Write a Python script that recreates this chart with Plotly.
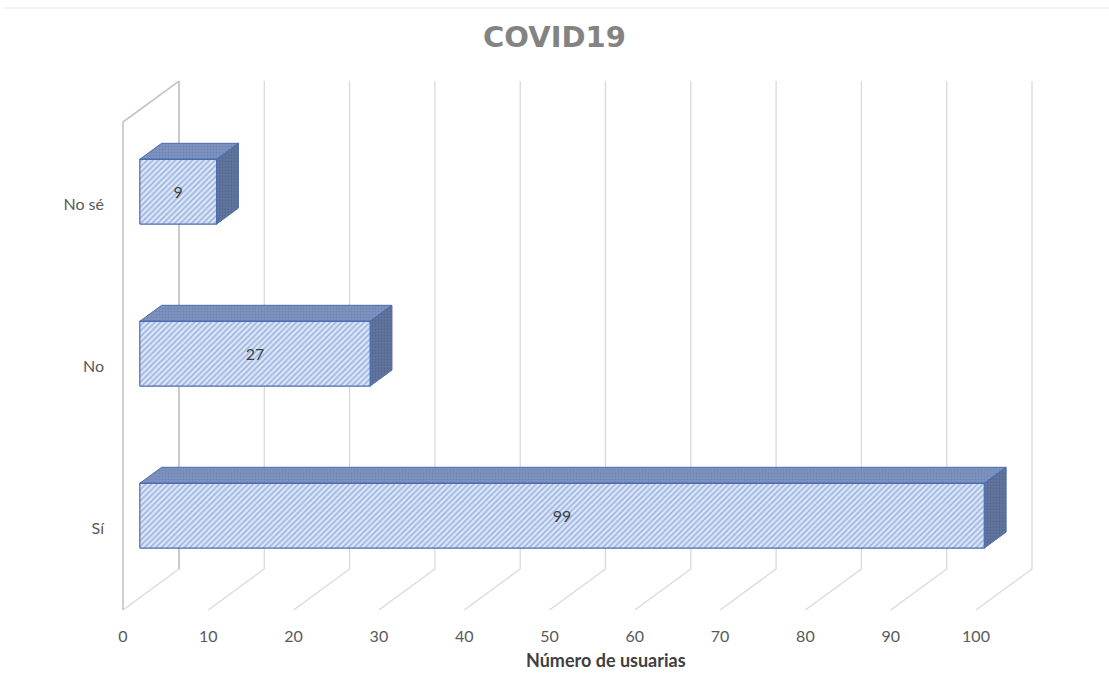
import plotly.graph_objects as go

# Survey answers and counts
categories = ["Sí", "No", "No sé"]
counts = [99, 27, 9]
x_ticks = [0, 10, 20, 30, 40, 50, 60, 70, 80, 90, 100]
chart_title = "COVID19"
x_title = "Número de usuarias"

# ---- pseudo-3D geometry (oblique projection) ----
W, H = 1109, 680
L_PX, R_PX, T_PX, B_PX = 113, 1050, 70, 620      # plot area in pixels
X0_PX, UNIT_PX = 123, 8.53                          # front-plane x=0 and px per unit
Y0_PX, CAT_PX = 528, 162                            # front-plane y of first category, px per category
DX = 56 / UNIT_PX                                   # depth shift in x (data units)
DY = 41 / CAT_PX                                    # depth shift in y (category units)
FLOOR, CEIL = -0.506, 2.506                         # wall extent at the front plane
D_FRONT, D_BACK = 0.30, 0.69                        # depth span of the bars
HALF = 0.2                                          # half bar thickness (category units)

x_range = [(L_PX - X0_PX) / UNIT_PX, (R_PX - X0_PX) / UNIT_PX]
y_range = [(Y0_PX - B_PX) / CAT_PX, (Y0_PX - T_PX) / CAT_PX]


def proj(v, d, y):
    """Map value v, depth d (0 front .. 1 back) and category position y to axis coords."""
    return v + d * DX, y + d * DY


def poly(points):
    xs, ys = zip(*[proj(*p) for p in points])
    return list(xs) + [xs[0]], list(ys) + [ys[0]]


fig = go.Figure()

GRID = "#d9d9d9"
WALL = "#c4c4c4"

# back wall verticals and floor diagonals
for v in x_ticks:
    xs, ys = zip(proj(v, 0, FLOOR), proj(v, 1, FLOOR), proj(v, 1, CEIL))
    fig.add_trace(go.Scatter(x=xs, y=ys, mode="lines", line=dict(color=GRID, width=1.3),
                             hoverinfo="skip", showlegend=False))

# side wall outline
xs, ys = zip(proj(0, 0, FLOOR), proj(0, 0, CEIL), proj(0, 1, CEIL), proj(0, 1, FLOOR))
fig.add_trace(go.Scatter(x=xs, y=ys, mode="lines", line=dict(color=WALL, width=1.6),
                         hoverinfo="skip", showlegend=False))

EDGE = "#4a6cb0"
for i, (cat, val) in enumerate(zip(categories, counts)):
    lo, hi = i - HALF, i + HALF
    # top face
    xs, ys = poly([(0, D_FRONT, hi), (val, D_FRONT, hi), (val, D_BACK, hi), (0, D_BACK, hi)])
    fig.add_trace(go.Scatter(x=xs, y=ys, mode="lines", fill="toself",
                             line=dict(color=EDGE, width=1),
                             fillcolor="#7a8fbb",
                             fillpattern=dict(shape=".", bgcolor="#7e93c0", fgcolor="#62799f",
                                              size=3, solidity=0.4),
                             hoverinfo="skip", showlegend=False))
    # right face
    xs, ys = poly([(val, D_FRONT, lo), (val, D_BACK, lo), (val, D_BACK, hi), (val, D_FRONT, hi)])
    fig.add_trace(go.Scatter(x=xs, y=ys, mode="lines", fill="toself",
                             line=dict(color=EDGE, width=1),
                             fillcolor="#5e7099",
                             fillpattern=dict(shape=".", bgcolor="#63769f", fgcolor="#4a5b84",
                                              size=3, solidity=0.45),
                             hoverinfo="skip", showlegend=False))
    # front face (hatched)
    xs, ys = poly([(0, D_FRONT, lo), (val, D_FRONT, lo), (val, D_FRONT, hi), (0, D_FRONT, hi)])
    fig.add_trace(go.Scatter(x=xs, y=ys, mode="lines", fill="toself",
                             line=dict(color=EDGE, width=1.2),
                             fillcolor="#d6e1f4",
                             fillpattern=dict(shape="/", bgcolor="#dde6f7", fgcolor="#5a80c8",
                                              size=4, solidity=0.4),
                             hoverinfo="skip", showlegend=False))
    # value label in the middle of the front face
    lx, ly = proj(val / 2, D_FRONT, i)
    fig.add_trace(go.Scatter(x=[lx], y=[ly - 0.015], mode="text", text=[str(val)],
                             textfont=dict(family="Lato", size=16, color="#404040"),
                             textposition="middle center", hoverinfo="skip", showlegend=False))

plot_w = R_PX - L_PX
plot_h = B_PX - T_PX

fig.update_layout(
    width=W, height=H,
    margin=dict(l=L_PX, r=W - R_PX, t=T_PX, b=H - B_PX),
    paper_bgcolor="white", plot_bgcolor="white",
    font=dict(family="Lato", color="#595959", size=16),
    title=dict(text=chart_title, x=0.5, xref="container", xanchor="center",
               y=1 - 37 / H, yref="container", yanchor="middle",
               font=dict(family="DejaVu Sans", size=29, color="#838383", weight="bold")),
    xaxis=dict(range=x_range, tickvals=x_ticks, ticktext=[str(t) for t in x_ticks],
               showgrid=False, zeroline=False, showline=False, ticks="",
               ticklabelstandoff=5, tickfont=dict(size=16, color="#595959")),
    yaxis=dict(range=y_range, tickvals=list(range(len(categories))), ticktext=categories,
               showgrid=False, zeroline=False, showline=False, ticks="",
               ticklabelstandoff=8, tickfont=dict(size=16, color="#595959")),
    annotations=[dict(text=x_title, xref="paper", yref="paper",
                      x=(606 - L_PX) / plot_w, y=-(660 - B_PX) / plot_h,
                      xanchor="center", yanchor="middle", showarrow=False,
                      font=dict(family="Lato", size=18, color="#404040", weight="bold"))],
    shapes=[dict(type="line", xref="paper", yref="paper",
                 x0=(4 - L_PX) / plot_w, x1=(W - L_PX) / plot_w,
                 y0=1 + (T_PX - 8) / plot_h, y1=1 + (T_PX - 8) / plot_h,
                 line=dict(color="#e6e6e6", width=1))],
)

fig.write_html("out.html")
